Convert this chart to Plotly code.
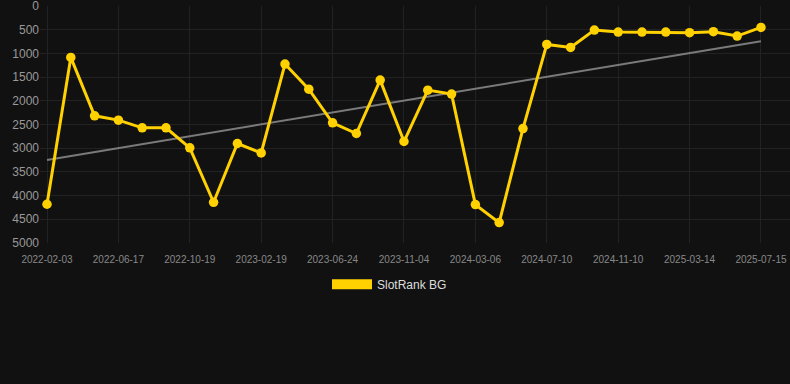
import numpy as np
import plotly.graph_objects as go

tick_labels = ["2022-02-03", "2022-06-17", "2022-10-19", "2023-02-19", "2023-06-24",
               "2023-11-04", "2024-03-06", "2024-07-10", "2024-11-10", "2025-03-14", "2025-07-15"]
ranks = [4183, 1085, 2317, 2408, 2570, 2570, 2993, 4141, 2901, 3099,
         1225, 1754, 2465, 2690, 1563, 2859, 1775, 1859, 4190, 4570,
         2585, 810, 873, 507, 549, 549, 549, 563, 542, 634, 451]
series_name = "SlotRank BG"

x = np.arange(len(ranks))
coef = np.polyfit(x, ranks, 1)
trend = np.polyval(coef, x[[0, -1]])

gold = "#FFD100"
fig = go.Figure()
fig.add_trace(go.Scatter(x=x[[0, -1]], y=trend, mode="lines",
                         line=dict(color="#7a7a7a", width=2), showlegend=False, hoverinfo="skip"))
fig.add_trace(go.Scatter(x=x, y=ranks, mode="lines+markers", name=series_name,
                         line=dict(color=gold, width=3), marker=dict(size=9.5, color=gold),
                         showlegend=False))
fig.add_trace(go.Scatter(x=[None], y=[None], mode="lines", name=series_name,
                         line=dict(color=gold, width=12), showlegend=True))

fig.update_layout(
    width=790, height=384,
    paper_bgcolor="#111111", plot_bgcolor="#111111",
    margin=dict(l=40, r=0, t=6, b=141),
    font=dict(family="Liberation Sans, Arial, sans-serif", color="#999999"),
    showlegend=True,
    legend=dict(orientation="h", x=0.466, xanchor="center", y=-0.113, yanchor="top",
                font=dict(size=12, color="#dddddd"), itemwidth=40),
    xaxis=dict(range=[-0.294, 31.22], tickvals=list(x[::3]), ticktext=tick_labels,
               showgrid=True, gridcolor="#222222", zeroline=False, showline=False,
               tickfont=dict(size=10, color="#888888"), ticks="", ticklabelstandoff=9,
               ticklabeloverflow="allow"),
    yaxis=dict(range=[5000.5, -0.5], tickvals=list(range(0, 5001, 500)),
               showgrid=True, gridcolor="#222222", zeroline=False, showline=False,
               tickfont=dict(size=12, color="#999999"), ticks="",
               ticklabeloverflow="allow"),
)
fig.write_html("out.html", config={"displayModeBar": False},
               post_script="document.body.style.margin='0';document.body.style.background='#111111';")
